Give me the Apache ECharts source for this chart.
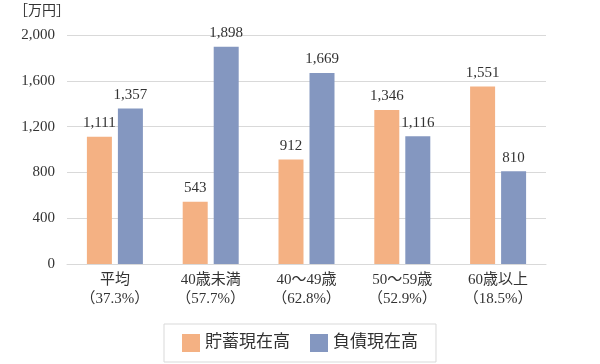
<!DOCTYPE html>
<html><head><meta charset="utf-8">
<script src="https://cdn.jsdelivr.net/npm/echarts@6/dist/echarts.min.js"></script>
<style>html,body{margin:0;padding:0;background:#fff}#c{width:600px;height:364px}</style>
</head><body><div id="c"></div>
<script>
const categories = ['平均\n（37.3%）','40歳未満\n（57.7%）','40〜49歳\n（62.8%）','50〜59歳\n（52.9%）','60歳以上\n（18.5%）'];
const savings = [1111, 543, 912, 1346, 1551];
const debt = [1357, 1898, 1669, 1116, 810];
const yTicks = [0, 400, 800, 1200, 1600, 2000];
const F = '"Liberation Serif","Noto Sans CJK JP",serif';
const chart = echarts.init(document.getElementById('c'));
chart.setOption({
  animation:false,
  textStyle:{fontFamily:F},
  graphic:[{type:'text',left:14,top:4,style:{text:'［万円］',font:'14px '+F,fill:'#333'}}],
  grid:{left:67,right:54,top:35,bottom:100,containLabel:false},
  legend:{bottom:2,left:'center',itemWidth:18,itemHeight:18,itemGap:20,
    borderColor:'#d9d9d9',borderWidth:1,padding:[10,18,10,18],
    textStyle:{fontSize:17,color:'#333',fontFamily:F},
    icon:'rect', data:['貯蓄現在高','負債現在高']},
  xAxis:{type:'category',data:categories,
    axisLine:{lineStyle:{color:'#d9d9d9'}},axisTick:{show:false},
    axisLabel:{fontSize:15,color:'#333',lineHeight:19,margin:7,fontFamily:F}},
  yAxis:{type:'value',min:0,max:2000,interval:400,
    axisLabel:{fontSize:15,color:'#333',margin:12,fontFamily:F,
      formatter:v=>v.toLocaleString('en-US')},
    splitLine:{lineStyle:{color:'#d9d9d9'}}},
  series:[
    {name:'貯蓄現在高',type:'bar',data:savings,barWidth:25,barGap:'24%',
     itemStyle:{color:'#F4B183'},
     label:{show:true,position:'top',fontSize:15,color:'#333',distance:6,fontFamily:F,formatter:p=>p.value.toLocaleString('en-US')}},
    {name:'負債現在高',type:'bar',data:debt,barWidth:25,
     itemStyle:{color:'#8497C0'},
     label:{show:true,position:'top',fontSize:15,color:'#333',distance:6,fontFamily:F,formatter:p=>p.value.toLocaleString('en-US')}}
  ]
});
</script></body></html>
